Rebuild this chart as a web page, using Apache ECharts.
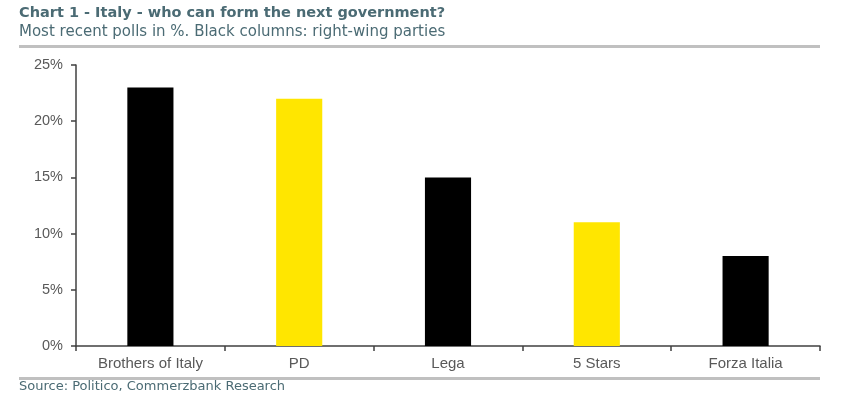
<!DOCTYPE html>
<html>
<head>
<meta charset="utf-8">
<script src="https://cdn.jsdelivr.net/npm/echarts@6/dist/echarts.min.js"></script>
<style>
html,body{margin:0;padding:0;background:#fff;}
#chart{width:862px;height:404px;}
</style>
</head>
<body>
<div id="chart"></div>
<script>
var categories = ['Brothers of Italy', 'PD', 'Lega', '5 Stars', 'Forza Italia'];
var pollValues = [23, 22, 15, 11, 8];
var rightWing = [true, false, true, false, true];
var yTicks = [0, 5, 10, 15, 20, 25];

var chart = echarts.init(document.getElementById('chart'));
var textColor = '#4b6b74';
var option = {
  animation: false,
  backgroundColor: '#fff',
  title: {
    text: 'Chart 1 - Italy - who can form the next government?',
    subtext: 'Most recent polls in %. Black columns: right-wing parties',
    left: 14, top: 1,
    itemGap: 4,
    textStyle: {fontFamily: 'DejaVu Sans', fontSize: 14.5, fontWeight: 'bold', color: textColor},
    subtextStyle: {fontFamily: 'DejaVu Sans', fontSize: 15, color: textColor}
  },
  graphic: [
    {type: 'rect', shape: {x: 19, y: 45, width: 801, height: 3}, style: {fill: '#c0c0c0'}},
    {type: 'rect', shape: {x: 19, y: 377, width: 801, height: 3}, style: {fill: '#c0c0c0'}},
    {type: 'text', left: 19, top: 380, style: {text: 'Source: Politico, Commerzbank Research', fontFamily: 'DejaVu Sans', fontSize: 13, fill: textColor}}
  ],
  grid: {left: 76, right: 42, top: 65, bottom: 58, containLabel: false},
  xAxis: {
    type: 'category',
    data: categories,
    axisLine: {lineStyle: {color: '#404040', width: 1.5}},
    axisTick: {show: true, alignWithLabel: false, length: 5, lineStyle: {color: '#404040', width: 1.5}},
    axisLabel: {fontFamily: 'Liberation Sans', fontSize: 15, color: '#595959', margin: 10}
  },
  yAxis: {
    type: 'value',
    min: yTicks[0], max: yTicks[yTicks.length - 1], interval: 5,
    axisLine: {show: true, lineStyle: {color: '#404040', width: 1.5}},
    axisTick: {show: true, length: 5, lineStyle: {color: '#404040', width: 1.5}},
    splitLine: {show: false},
    axisLabel: {fontFamily: 'Liberation Sans', fontSize: 14.5, color: '#595959', margin: 13, formatter: '{value}%'}
  },
  series: [{
    type: 'bar',
    barWidth: '31%',
    data: pollValues.map(function (v, i) {
      return {value: v, itemStyle: {color: rightWing[i] ? '#000000' : '#ffe600'}};
    })
  }]
};
chart.setOption(option);
</script>
</body>
</html>
